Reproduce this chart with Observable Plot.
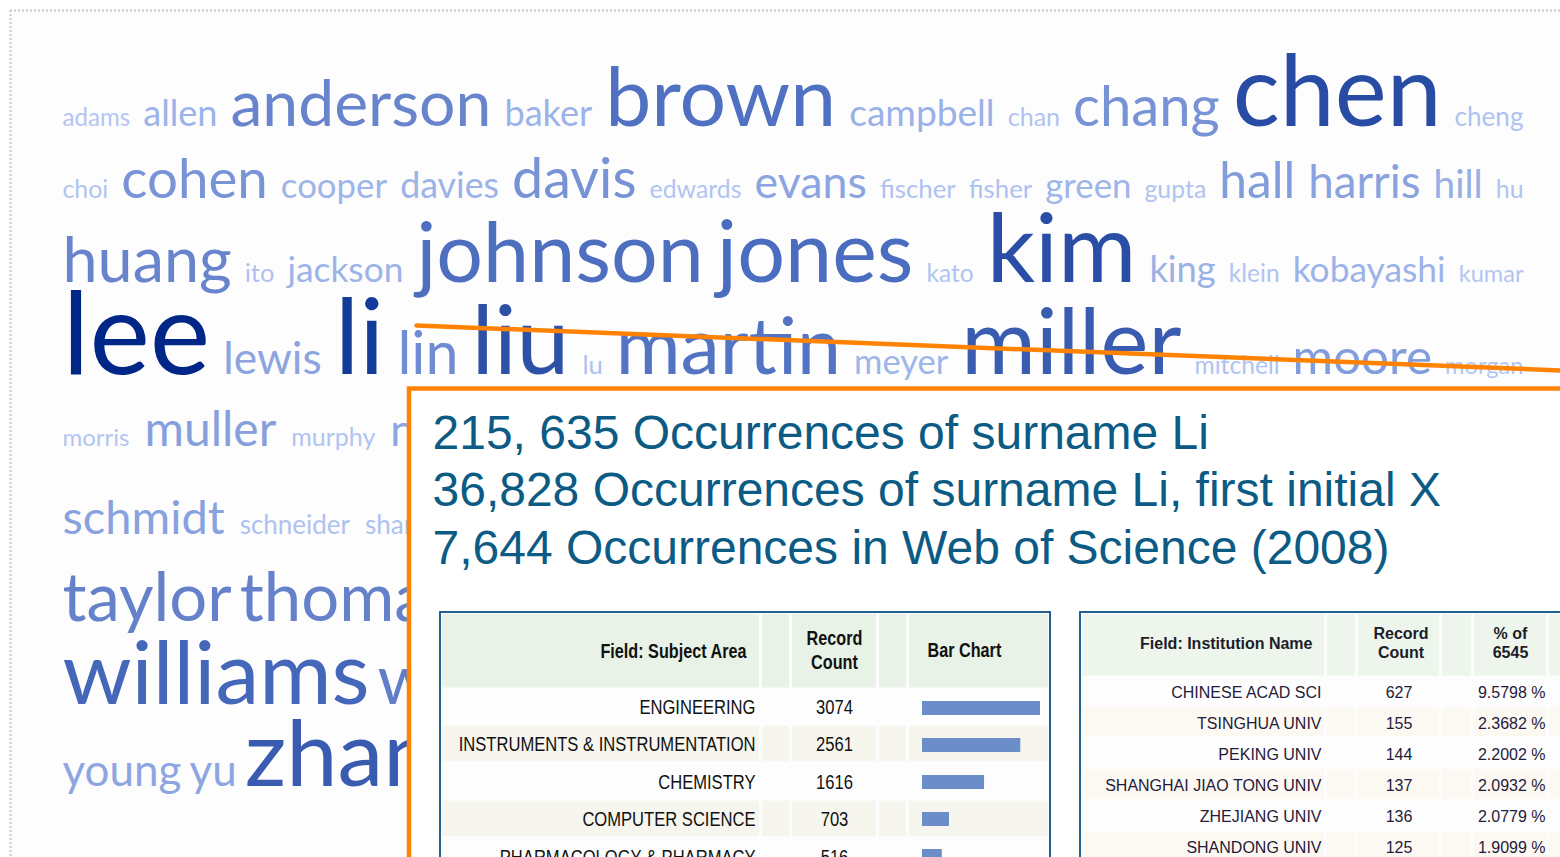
<!DOCTYPE html>
<html>
<head>
<meta charset="utf-8">
<script src="https://cdn.jsdelivr.net/npm/d3@7"></script>
<script src="https://cdn.jsdelivr.net/npm/@observablehq/plot@0.6"></script>
<style>
html, body { margin: 0; padding: 0; background: #ffffff; }
#wrap { position: relative; width: 1560px; height: 857px; overflow: hidden; }
#wrap > svg { position: absolute; left: 0; top: 0; }
</style>
</head>
<body>
<div id="wrap"></div>
<script>
// ---------------- DATA ----------------
const cloudRows = [
  ["adams", "allen", "anderson", "baker", "brown", "campbell", "chan", "chang", "chen", "cheng"],
  ["choi", "cohen", "cooper", "davies", "davis", "edwards", "evans", "fischer", "fisher", "green", "gupta", "hall", "harris", "hill", "hu"],
  ["huang", "ito", "jackson", "johnson", "jones", "kato", "kim", "king", "klein", "kobayashi", "kumar"],
  ["lee", "lewis", "li", "lin", "liu", "lu", "martin", "meyer", "miller", "mitchell", "moore", "morgan"],
  ["morris", "muller", "murphy", "nguyen"],
  ["schmidt", "schneider", "sharma"],
  ["taylor", "thomas"],
  ["williams", "wilson"],
  ["young", "yu", "zhang"]
];
const cloudWeights = [
  [24, 36, 64, 36, 82, 37, 25, 56, 98, 26],
  [25, 55, 35, 36, 56, 25, 45, 26, 26, 35, 25, 50, 46, 39, 25],
  [64, 26, 36, 84, 86, 25, 97, 37, 25, 36, 24],
  [116, 45, 106, 60, 96, 26, 80, 35, 92, 25, 50, 24],
  [24, 48, 25, 44],
  [47, 26, 26],
  [67, 67],
  [88, 69],
  [44, 44, 92]
];

const calloutLines = [
  "215, 635 Occurrences of surname Li",
  "36,828 Occurrences of surname Li, first initial X",
  "7,644 Occurrences in Web of Science (2008)"
];

const subjectHeader = ["Field: Subject Area", "Record", "Count", "Bar Chart"];
const subjectAreas = ["ENGINEERING", "INSTRUMENTS & INSTRUMENTATION", "CHEMISTRY", "COMPUTER SCIENCE", "PHARMACOLOGY & PHARMACY"];
const subjectCounts = [3074, 2561, 1616, 703, 516];

const institutionHeader = ["Field: Institution Name", "Record", "Count", "% of", "6545"];
const institutions = ["CHINESE ACAD SCI", "TSINGHUA UNIV", "PEKING UNIV", "SHANGHAI JIAO TONG UNIV", "ZHEJIANG UNIV", "SHANDONG UNIV"];
const institutionCounts = [627, 155, 144, 137, 136, 125];
const institutionTotal = 6545;

// ---------------- LAYOUT / STYLE ----------------
const W = 1560, H = 857;
const wrap = document.getElementById("wrap");
const CLOUD_FONT = "Lato";
const ARIAL = "'Liberation Sans', Arial, sans-serif";
const cloudLeft = 62, cloudRight = 1523;
const rowBaseline = d3.scaleLinear().domain(d3.range(9)).range([125, 197, 281, 373, 445, 533, 620, 703, 785]);
const justifiedRows = 4;
const colorStops = [24, 36, 48, 64, 86, 97, 114];
const colorRange = ["#b2c5f3", "#9cb3e9", "#86a0de", "#6884cc", "#4b6dbf", "#2a4ea5", "#002a8a"];

const ctx = document.createElement("canvas").getContext("2d");
function textWidth(s, size, family, weight = "normal") {
  ctx.font = `${weight} ${size}px ${family}`;
  return ctx.measureText(s).width;
}

// flow layout of the tag cloud (justified rows)
const words = [];
cloudRows.forEach((row, r) => {
  const ws = cloudWeights[r];
  let sizes = ws.slice();
  let widths = row.map((w, i) => textWidth(w, sizes[i], CLOUD_FONT));
  let gap = r < 6 ? 15 : 8;
  if (r < justifiedRows) {
    const avail = cloudRight - cloudLeft;
    let f = (avail - 13 * (row.length - 1)) / d3.sum(widths);
    f = Math.max(0.86, Math.min(1.14, f));
    sizes = sizes.map(s => s * f);
    widths = widths.map(w => w * f);
    gap = (avail - d3.sum(widths)) / (row.length - 1);
  }
  let x = cloudLeft;
  row.forEach((w, i) => {
    words.push({word: w, weight: ws[i], size: sizes[i], x, y: rowBaseline(r)});
    x += widths[i] + gap;
  });
});

const idScales = {x: {type: "identity", axis: null}, y: {type: "identity", axis: null}};
function layer(marks, extra = {}) {
  const svg = Plot.plot({
    width: W, height: H, margin: 0,
    ...idScales,
    style: {background: "transparent"},
    marks,
    ...extra
  });
  wrap.appendChild(svg);
  return svg;
}

// text marks split by anchor (textAnchor is a constant option in Plot)
function anchoredText(data, opts) {
  return ["start", "middle", "end"].map(a =>
    Plot.text(data.filter(d => d.a === a), {x: "x", y: "y", text: "t", textAnchor: a, ...opts}));
}
function condense(svg, factor) {
  d3.select(svg).selectAll("text").each(function () {
    const w = this.getComputedTextLength();
    if (w > 0) {
      this.setAttribute("textLength", (w * factor).toFixed(1));
      this.setAttribute("lengthAdjust", "spacingAndGlyphs");
    }
  });
}

// ---------------- LAYER 1: the cloud ----------------
layer([
  Plot.rect([{}], {x1: 10, y1: 10, x2: W, y2: H, fill: "#fdfdfd"}),
  Plot.ruleY([10], {x1: 10, x2: W, stroke: "#c9c9c9", strokeWidth: 2, strokeDasharray: "2,2"}),
  Plot.ruleX([10], {y1: 10, y2: H, stroke: "#c9c9c9", strokeWidth: 2, strokeDasharray: "2,2"}),
  Plot.text(words, {
    x: "x", y: "y", text: "word", fill: "weight",
    fontSize: d => d.size, fontFamily: CLOUD_FONT,
    textAnchor: "start", lineAnchor: "bottom"
  })
], {color: {type: "linear", domain: colorStops, range: colorRange}});

// ---------------- LAYER 2: callout, table frames, table 2 ----------------
const anchor = {x: 416, y: 325}, slope = 0.0393;
const box = {x1: 409, y1: 388.5};
const t1 = {x1: 440, x2: 1050, y1: 612, headBottom: 687.5, rowH: 37.4,
  cols: [[442, 759], [762, 789], [792, 876], [879, 906], [909, 1048]]};
const t2 = {x1: 1080, x2: 1640, y1: 612, headBottom: 675.5, rowH: 31,
  cols: [[1082, 1324], [1327, 1355], [1358, 1439], [1442, 1471], [1474, 1546], [1549, 1640]]};

function cells(t, n, headFill, stripe) {
  const out = [];
  t.cols.forEach(c => out.push({x1: c[0], x2: c[1], y1: t.y1 + 2, y2: t.headBottom, fill: headFill}));
  for (let i = 1; i < n; i += 2) {
    t.cols.forEach(c => out.push({x1: c[0], x2: c[1], y1: t.headBottom + 1 + i * t.rowH, y2: t.headBottom + (i + 1) * t.rowH - 1, fill: stripe}));
  }
  return out;
}
const rowY = (t, i) => t.headBottom + 1 + t.rowH * (i + 0.5);
const headMid = t => (t.y1 + t.headBottom) / 2;

const instRows = institutions.map((name, i) => ({
  name, count: String(institutionCounts[i]),
  pct: d3.format(".4f")(institutionCounts[i] / institutionTotal * 100) + " %",
  y: rowY(t2, i)
}));
const t2LabelX = t2.cols[0][1] - 3, t2CountX = (t2.cols[2][0] + t2.cols[2][1]) / 2,
      t2PctX = t2.cols[4][1] - 1, t2PctHeadX = (t2.cols[4][0] + t2.cols[4][1]) / 2;
const t2Head = [
  {t: institutionHeader[0], x: t2.cols[0][1] - 12, y: headMid(t2), a: "end"},
  {t: institutionHeader[1], x: t2CountX + 2, y: headMid(t2) - 10, a: "middle"},
  {t: institutionHeader[2], x: t2CountX + 2, y: headMid(t2) + 9, a: "middle"},
  {t: institutionHeader[3], x: t2PctHeadX, y: headMid(t2) - 10, a: "middle"},
  {t: institutionHeader[4], x: t2PctHeadX, y: headMid(t2) + 9, a: "middle"}
];

layer([
  Plot.line([anchor, {x: W + 60, y: anchor.y + (W + 60 - anchor.x) * slope}], {x: "x", y: "y", stroke: "#ff8200", strokeWidth: 4.5}),
  Plot.rect([{}], {x1: box.x1, y1: box.y1, x2: W + 60, y2: H + 60, fill: "#ffffff", stroke: "#ff8200", strokeWidth: 4.5}),
  Plot.text(calloutLines, {x: 432, y: (d, i) => 448 + i * 57.5, text: d => d, fontSize: 48, fontFamily: ARIAL, fill: "#0b5b84", textAnchor: "start", lineAnchor: "bottom"}),
  // table frames
  Plot.rect([t1, t2], {x1: "x1", x2: "x2", y1: "y1", y2: () => H + 40, fill: "#fdfdfd", stroke: "#23608e", strokeWidth: 2}),
  Plot.rect(cells(t1, subjectAreas.length, "#e8f2e7", "#f6f6ee"), {x1: "x1", x2: "x2", y1: "y1", y2: "y2", fill: "fill"}),
  Plot.rect(cells(t2, institutions.length, "#edf5ec", "#fcf9f3"), {x1: "x1", x2: "x2", y1: "y1", y2: "y2", fill: "fill"}),
  // table 2 text
  ...anchoredText(t2Head, {fontSize: 16, fontWeight: "bold", fontFamily: ARIAL, fill: "#1d1d2a"}),
  Plot.text(instRows, {x: t2LabelX, y: "y", text: "name", textAnchor: "end", fontSize: 16, fontFamily: ARIAL, fill: "#261a3a"}),
  Plot.text(instRows, {x: t2CountX, y: "y", text: "count", textAnchor: "middle", fontSize: 16, fontFamily: ARIAL, fill: "#261a3a"}),
  Plot.text(instRows, {x: t2PctX, y: "y", text: "pct", textAnchor: "end", fontSize: 16, fontFamily: ARIAL, fill: "#261a3a"})
], {color: {type: "identity"}});

// ---------------- LAYER 3: table 1 text (condensed) ----------------
const subjRows = subjectAreas.map((area, i) => ({area, count: String(subjectCounts[i]), y: rowY(t1, i)}));
const t1CountX = (t1.cols[2][0] + t1.cols[2][1]) / 2;
const t1Head = [
  {t: subjectHeader[0], x: t1.cols[0][1] - 13, y: headMid(t1) + 1, a: "end"},
  {t: subjectHeader[1], x: t1CountX, y: headMid(t1) - 12, a: "middle"},
  {t: subjectHeader[2], x: t1CountX, y: headMid(t1) + 12, a: "middle"},
  {t: subjectHeader[3], x: t1.cols[4][0] + 18, y: headMid(t1), a: "start"}
];
const svgHead1 = layer(anchoredText(t1Head, {fontSize: 20, fontWeight: "bold", fontFamily: ARIAL, fill: "#111111"}));
condense(svgHead1, 0.81);
const svgBody1 = layer([
  Plot.text(subjRows, {x: t1.cols[0][1] - 4, y: "y", text: "area", textAnchor: "end", fontSize: 19.5, fontFamily: ARIAL, fill: "#111111"}),
  Plot.text(subjRows, {x: t1CountX, y: "y", text: "count", textAnchor: "middle", fontSize: 19.5, fontFamily: ARIAL, fill: "#111111"})
]);
condense(svgBody1, 0.85);

// ---------------- LAYER 4: table 1 bar chart ----------------
const subjData = subjectAreas.map((area, i) => ({area, count: subjectCounts[i]}));
const bars = Plot.plot({
  width: W, height: H, margin: 0,
  style: {background: "transparent"},
  x: {domain: [0, d3.max(subjectCounts)], range: [922, 1040], axis: null},
  y: {domain: subjectAreas, range: [t1.headBottom + 1, t1.headBottom + 1 + subjectAreas.length * t1.rowH],
      paddingInner: 0.626, paddingOuter: 0.313, axis: null},
  marks: [Plot.barX(subjData, {x: "count", y: "area", fill: "#6b8ec8"})]
});
wrap.appendChild(bars);
</script>
</body>
</html>
